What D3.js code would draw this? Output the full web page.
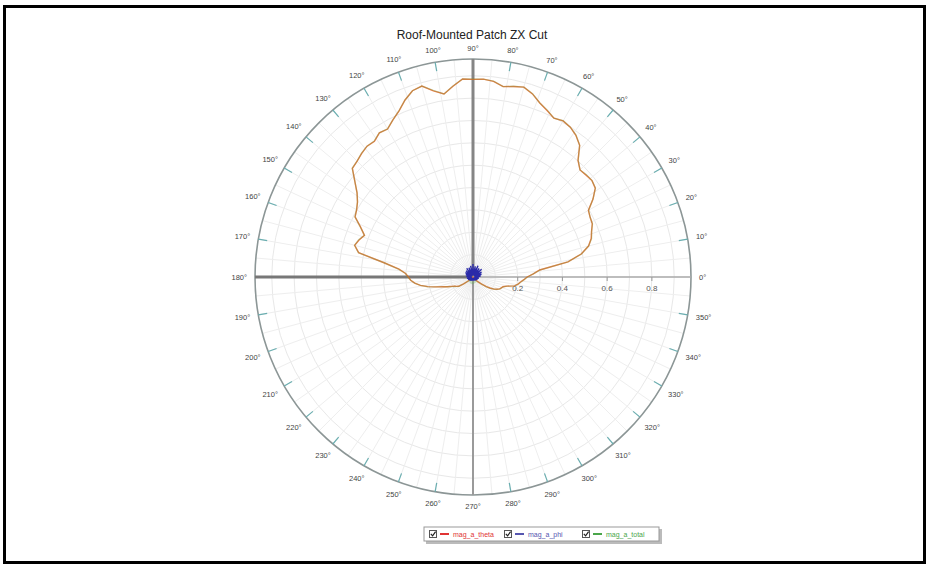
<!DOCTYPE html>
<html>
<head>
<meta charset="utf-8">
<script src="https://cdn.jsdelivr.net/npm/d3@7/dist/d3.min.js"></script>
<style>
  html, body { margin: 0; padding: 0; background: #fff; }
  svg { display: block; font-family: "Liberation Sans", Arial, sans-serif; }
</style>
</head>
<body>
<svg id="chart" width="929" height="566"></svg>
<script>
// Radiation pattern samples, one every 3 degrees starting at 0°
const angleStep = 3;
const magTheta = [
  0.242, 0.270, 0.300, 0.430, 0.495, 0.535, 0.556, 0.568, 0.584, 0.588,
  0.596, 0.640, 0.676, 0.685, 0.681, 0.677, 0.702, 0.758, 0.783, 0.799,
  0.806, 0.797, 0.815, 0.834, 0.861, 0.879, 0.871, 0.862, 0.880, 0.886,
  0.884, 0.887, 0.858, 0.829, 0.851, 0.884, 0.876, 0.848, 0.813, 0.789,
  0.764, 0.769, 0.750, 0.753, 0.744, 0.733, 0.726, 0.680, 0.641, 0.616,
  0.601, 0.592, 0.551, 0.520, 0.536, 0.548, 0.523, 0.400, 0.333, 0.302,
  0.289, 0.279, 0.262, 0.238, 0.207, 0.170, 0.142, 0.121, 0.103, 0.091,
  0.084, 0.076, 0.052, 0.030, 0.018, 0.012, 0.009, 0.007, 0.006, 0.005,
  0.004, 0.004, 0.003, 0.003, 0.002, 0.002, 0.002, 0.001, 0.001, 0.001,
  0.001, 0.001, 0.001, 0.002, 0.002, 0.002, 0.003, 0.003, 0.004, 0.005,
  0.006, 0.008, 0.010, 0.014, 0.020, 0.028, 0.036, 0.050, 0.074, 0.090,
  0.108, 0.121, 0.130, 0.136, 0.141, 0.158, 0.190, 0.204, 0.214, 0.228
];
const magPhi = [
  0.022, 0.008, 0.034, 0.012, 0.028, 0.006, 0.040, 0.015, 0.030, 0.009,
  0.044, 0.011, 0.028, 0.007, 0.052, 0.014, 0.036, 0.010, 0.047, 0.008,
  0.031, 0.013, 0.055, 0.009, 0.040, 0.012, 0.049, 0.007, 0.033, 0.015,
  0.058, 0.010, 0.037, 0.008, 0.051, 0.013, 0.029, 0.009, 0.045, 0.011,
  0.035, 0.006, 0.048, 0.012, 0.032, 0.008, 0.042, 0.010, 0.027, 0.007,
  0.039, 0.009, 0.030, 0.012, 0.034, 0.008, 0.026, 0.011, 0.030, 0.009,
  0.026, 0.007, 0.022, 0.010, 0.028, 0.006, 0.020, 0.009, 0.025, 0.006,
  0.018, 0.008, 0.023, 0.005, 0.016, 0.007, 0.021, 0.005, 0.015, 0.006,
  0.019, 0.005, 0.014, 0.006, 0.017, 0.004, 0.013, 0.005, 0.016, 0.004,
  0.012, 0.005, 0.015, 0.004, 0.013, 0.005, 0.017, 0.004, 0.014, 0.006,
  0.018, 0.005, 0.016, 0.006, 0.020, 0.005, 0.017, 0.007, 0.022, 0.006,
  0.019, 0.008, 0.024, 0.006, 0.021, 0.009, 0.027, 0.007, 0.025, 0.010
];
const magTotal = [
  0.244, 0.270, 0.303, 0.430, 0.496, 0.535, 0.558, 0.568, 0.585, 0.588,
  0.597, 0.640, 0.677, 0.685, 0.683, 0.677, 0.703, 0.758, 0.784, 0.799,
  0.807, 0.797, 0.817, 0.834, 0.862, 0.879, 0.872, 0.862, 0.881, 0.886,
  0.886, 0.887, 0.859, 0.829, 0.853, 0.884, 0.876, 0.848, 0.814, 0.789,
  0.765, 0.769, 0.752, 0.753, 0.745, 0.733, 0.727, 0.680, 0.641, 0.616,
  0.602, 0.592, 0.552, 0.520, 0.538, 0.548, 0.524, 0.400, 0.335, 0.302,
  0.291, 0.279, 0.263, 0.238, 0.209, 0.170, 0.143, 0.121, 0.106, 0.091,
  0.086, 0.076, 0.057, 0.033, 0.025, 0.022, 0.024, 0.021, 0.023, 0.022,
  0.024, 0.022, 0.025, 0.023, 0.026, 0.024, 0.027, 0.025, 0.028, 0.026,
  0.027, 0.025, 0.026, 0.024, 0.025, 0.023, 0.024, 0.022, 0.023, 0.021,
  0.022, 0.020, 0.021, 0.022, 0.026, 0.032, 0.040, 0.052, 0.076, 0.091,
  0.110, 0.121, 0.132, 0.136, 0.143, 0.158, 0.191, 0.204, 0.216, 0.229
];
const radialTicks = [0.2, 0.4, 0.6, 0.8];
const angleLabels = ["0°","10°","20°","30°","40°","50°","60°","70°","80°","90°",
  "100°","110°","120°","130°","140°","150°","160°","170°","180°","190°",
  "200°","210°","220°","230°","240°","250°","260°","270°","280°","290°",
  "300°","310°","320°","330°","340°","350°"];
const seriesNames = ["mag_a_theta", "mag_a_phi", "mag_a_total"];
const chartTitle = "Roof-Mounted Patch ZX Cut";

const svg = d3.select("#chart");
const cx = 473, cy = 277, R = 218;
const rScale = d3.scaleLinear().domain([0, 0.975]).range([0, R]);
const toRad = a => a * Math.PI / 180;
const px = (a, r) => cx + r * Math.cos(toRad(a));
const py = (a, r) => cy - r * Math.sin(toRad(a));

// outer frame
svg.append("rect").attr("x", 4.5).attr("y", 6.5).attr("width", 920).attr("height", 556)
  .attr("fill", "#fff").attr("stroke", "#000").attr("stroke-width", 3);

// title
svg.append("text").attr("x", 472).attr("y", 39).attr("text-anchor", "middle")
  .attr("font-size", 12).attr("fill", "#222").text(chartTitle);

const g = svg.append("g");

// grid circles
g.selectAll("circle.grid").data(d3.range(1, 10).map(i => i / 10)).join("circle")
  .attr("cx", cx).attr("cy", cy).attr("r", d => rScale(d))
  .attr("fill", "none").attr("stroke", "#e8e8e8").attr("stroke-width", 1);

// grid spokes every 5 degrees
g.selectAll("line.spoke").data(d3.range(0, 360, 5)).join("line")
  .attr("x1", cx).attr("y1", cy)
  .attr("x2", d => px(d, R)).attr("y2", d => py(d, R))
  .attr("stroke", "#eeeeee").attr("stroke-width", 1);

// outer ring
g.append("circle").attr("cx", cx).attr("cy", cy).attr("r", R)
  .attr("fill", "none").attr("stroke", "#8c9696").attr("stroke-width", 1.6);

// ring ticks every 10 degrees
g.selectAll("line.rtick").data(d3.range(0, 360, 10).filter(a => a % 90 !== 0)).join("line")
  .attr("x1", d => px(d, R - 9)).attr("y1", d => py(d, R - 9))
  .attr("x2", d => px(d, R)).attr("y2", d => py(d, R))
  .attr("stroke", "#6aaeb0").attr("stroke-width", 1.2);

// main axes
g.append("line").attr("x1", cx).attr("y1", cy).attr("x2", px(180, R)).attr("y2", cy)
  .attr("stroke", "#777").attr("stroke-width", 3);
g.append("line").attr("x1", cx).attr("y1", cy).attr("x2", cx).attr("y2", py(90, R))
  .attr("stroke", "#858585").attr("stroke-width", 3);
g.append("line").attr("x1", cx).attr("y1", cy).attr("x2", cx).attr("y2", py(270, R))
  .attr("stroke", "#9a9a9a").attr("stroke-width", 2);
g.append("line").attr("x1", cx).attr("y1", cy).attr("x2", px(0, R)).attr("y2", cy)
  .attr("stroke", "#aaa").attr("stroke-width", 1.6);

// radial axis ticks and labels
g.selectAll("line.rt").data(radialTicks).join("line")
  .attr("x1", d => cx + rScale(d)).attr("x2", d => cx + rScale(d))
  .attr("y1", cy).attr("y2", cy + 4)
  .attr("stroke", "#999").attr("stroke-width", 1);
g.selectAll("text.rl").data(radialTicks).join("text")
  .attr("x", d => cx + rScale(d)).attr("y", cy + 14)
  .attr("text-anchor", "middle").attr("font-size", 8).attr("fill", "#555")
  .text(d => d3.format(".1f")(d));

// angle labels
g.selectAll("text.al").data(angleLabels).join("text")
  .attr("font-size", 7.5).attr("fill", "#444")
  .attr("text-anchor", "middle").attr("dominant-baseline", "central")
  .text(d => d)
  .each(function(d, i) {
    const a = i * 10;
    const w = this.getComputedTextLength();
    const rr = R + 8 + Math.abs(Math.cos(toRad(a))) * w / 2 + Math.abs(Math.sin(toRad(a))) * 3;
    d3.select(this).attr("x", px(a, rr)).attr("y", py(a, rr));
  });

// pattern traces
const toPoints = vals => vals.map((v, i) => ({ a: i * angleStep, v }));
const radial = d3.lineRadial()
  .angle(d => toRad(90 - d.a))
  .radius(d => rScale(d.v))
  .curve(d3.curveLinearClosed);
const traces = g.append("g").attr("transform", `translate(${cx},${cy})`).attr("fill", "none");
traces.append("path").attr("d", radial(toPoints(magTheta)))
  .attr("stroke", "#f05a1e").attr("stroke-width", 1.4).attr("stroke-opacity", 0.8);
traces.append("path").attr("d", radial(toPoints(magTotal)))
  .attr("stroke", "#4aa83a").attr("stroke-width", 1.4).attr("stroke-opacity", 0.28);
traces.append("path").attr("d", radial(toPoints(magPhi)))
  .attr("stroke", "#2a2aa8").attr("stroke-width", 1.4);

// legend
const lg = svg.append("g").attr("transform", "translate(424,527)");
lg.append("rect").attr("x", 2).attr("y", 2).attr("width", 236).attr("height", 15).attr("fill", "#bbb");
lg.append("rect").attr("x", 0).attr("y", 0).attr("width", 235).attr("height", 14)
  .attr("fill", "#fff").attr("stroke", "#999").attr("stroke-width", 1);
const legendColors = ["#e03434", "#5656b0", "#4aa64a"];
const legendX = [5, 80, 158];
seriesNames.forEach((name, i) => {
  const it = lg.append("g").attr("transform", `translate(${legendX[i]},0)`);
  it.append("rect").attr("x", 0.5).attr("y", 3.5).attr("width", 7).attr("height", 7)
    .attr("fill", "#fff").attr("stroke", "#555").attr("stroke-width", 1);
  it.append("path").attr("d", "M1.8,6.8 L3.6,8.8 L6.6,4.6").attr("fill", "none")
    .attr("stroke", "#222").attr("stroke-width", 1.2);
  it.append("line").attr("x1", 11).attr("x2", 20).attr("y1", 7).attr("y2", 7)
    .attr("stroke", legendColors[i]).attr("stroke-width", 2);
  it.append("text").attr("x", 24).attr("y", 9.5).attr("font-size", 7)
    .attr("fill", legendColors[i]).text(name);
});
</script>
</body>
</html>
